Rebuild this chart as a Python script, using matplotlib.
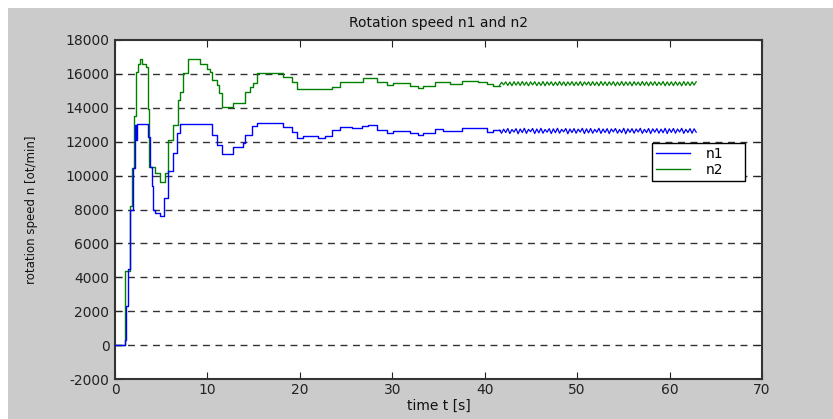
import numpy as np
import matplotlib
matplotlib.use("Agg")
import matplotlib.pyplot as plt
from matplotlib.patches import Rectangle

# ---------------- data ----------------
title = "Rotation speed n1 and n2"
xlabel = "time t [s]"
ylabel = "rotation speed n [ot/min]"
series_names = ["n1", "n2"]
x_ticks = [0, 10, 20, 30, 40, 50, 60, 70]
y_ticks = [-2000, 0, 2000, 4000, 6000, 8000, 10000, 12000, 14000, 16000, 18000]

# stepped (sample-and-hold) part, n1
n1_t = [0.0, 1.05, 1.15, 1.40, 1.65, 1.90, 2.20, 2.27, 2.35, 3.43, 3.61, 3.75, 3.97,
        4.08, 4.33, 4.87, 5.30, 5.77, 6.24, 6.74, 7.03, 10.28, 10.46, 11.00, 11.54,
        12.80, 13.88, 14.06, 14.79, 15.33, 18.21, 19.11, 19.65, 20.37, 22.00, 22.72,
        23.44, 24.34, 25.60, 26.69, 27.41, 28.31, 29.39, 30.11, 31.92, 32.82, 33.36,
        34.62, 35.52, 37.51, 40.21, 40.90, 41.60]
n1_v = [0, 300, 2300, 4500, 8000, 10450, 13000, 12100, 13050, 13050, 12300, 10500, 9400,
        8000, 7800, 7600, 8700, 10250, 11350, 12500, 13050, 13050, 12400, 11800, 11300,
        11700, 11900, 12400, 12900, 13080, 12880, 12580, 12190, 12330, 12190, 12330,
        12680, 12880, 12780, 12920, 13000, 12680, 12530, 12620, 12490, 12390, 12530,
        12720, 12620, 12780, 12580, 12680, 12680]

# stepped part, n2
n2_t = [0.0, 1.10, 1.65, 1.80, 2.10, 2.25, 2.50, 2.75, 2.95, 3.40, 3.55, 3.65, 4.35,
        4.85, 5.40, 5.77, 6.24, 6.80, 7.03, 7.40, 7.85, 9.20, 9.90, 10.28, 10.46,
        11.00, 11.20, 11.54, 12.80, 14.06, 14.60, 14.90, 15.33, 18.21, 19.11, 19.65,
        23.44, 24.34, 26.87, 28.31, 29.39, 30.11, 31.92, 32.82, 33.36, 34.62, 36.24,
        37.51, 39.31, 40.21, 40.90, 41.60]
n2_v = [0, 4400, 8200, 10450, 13500, 16100, 16600, 16850, 16600, 16400, 13900, 10500, 10150,
        9650, 10150, 12100, 13000, 14450, 14950, 16050, 16900, 16600, 16300, 16100, 15630,
        15340, 14850, 14060, 14260, 14940, 15250, 15440, 16030, 15830, 15530, 15080,
        15240, 15530, 15730, 15530, 15340, 15440, 15280, 15140, 15280, 15500, 15380,
        15580, 15500, 15400, 15300, 15300]

# oscillating tail (one sample every tail_dt seconds from tail_t0)
tail_t0 = 41.6
tail_dt = 0.224
n1_tail = [12680, 12500, 12740, 12540, 12780, 12480, 12720, 12570, 12770, 12470, 12750, 12540,
           12790, 12490, 12730, 12590, 12780, 12480, 12750, 12520, 12790, 12500, 12720, 12560,
           12770, 12480, 12760, 12530, 12790, 12500, 12730, 12580, 12780, 12470, 12750, 12540,
           12770, 12500, 12740, 12570, 12790, 12480, 12760, 12520, 12780, 12500, 12730, 12560,
           12790, 12490, 12750, 12540, 12770, 12480, 12750, 12580, 12780, 12500, 12720, 12530,
           12790, 12470, 12760, 12550, 12770, 12500, 12750, 12570, 12790, 12490, 12730, 12540,
           12780, 12480, 12760, 12560, 12770, 12500, 12740, 12530, 12790, 12480, 12760, 12550,
           12780, 12500, 12750, 12570, 12790, 12490, 12730, 12540, 12770, 12500, 12760, 12560]
n2_tail = [15320, 15500, 15360, 15530, 15320, 15520, 15300, 15540, 15340, 15530, 15310, 15550,
           15330, 15520, 15300, 15530, 15350, 15540, 15310, 15510, 15320, 15550, 15300, 15530,
           15340, 15530, 15310, 15520, 15320, 15550, 15330, 15530, 15300, 15530, 15340, 15540,
           15310, 15520, 15320, 15550, 15300, 15530, 15350, 15530, 15310, 15540, 15320, 15520,
           15300, 15550, 15330, 15530, 15310, 15530, 15340, 15540, 15300, 15520, 15320, 15550,
           15310, 15530, 15330, 15530, 15300, 15540, 15340, 15520, 15310, 15550, 15320, 15530,
           15300, 15530, 15330, 15540, 15310, 15520, 15340, 15550, 15300, 15530, 15320, 15530,
           15310, 15540, 15330, 15520, 15300, 15550, 15320, 15530, 15310, 15530, 15340, 15540]

# ---------------- figure ----------------
W, H = 833, 419
fig = plt.figure(figsize=(W / 100, H / 100), dpi=100, facecolor="white")
bg = "#cacbca"
fig.patches.append(Rectangle((8 / W, 0), 1, 1 - 8 / H, transform=fig.transFigure,
                             facecolor=bg, edgecolor="none", zorder=-10))

L, R, T, B = 115, 762, 40, 379
ax = fig.add_axes([L / W, (H - B) / H, (R - L) / W, (B - T) / H])
ax.set_facecolor("white")

c1 = "#0000ff"
c2 = "#008000"

tail_t = tail_t0 + tail_dt * np.arange(len(n1_tail))

ax.plot(n2_t, n2_v, color=c2, lw=1.0, drawstyle="steps-post", label=series_names[1], zorder=3)
ax.plot(tail_t, n2_tail, color=c2, lw=0.9, zorder=3)
ax.plot(n1_t, n1_v, color=c1, lw=1.0, drawstyle="steps-post", label=series_names[0], zorder=4)
ax.plot(tail_t, n1_tail, color=c1, lw=0.9, zorder=4)

ax.set_xlim(0, 70)
ax.set_ylim(-2000, 18000)
ax.set_xticks(x_ticks)
ax.set_yticks(y_ticks)
ax.set_xticklabels([str(v) for v in x_ticks])
ax.set_yticklabels([str(v) for v in y_ticks])

for y in y_ticks[1:-1]:
    ax.axhline(y, color="#333333", lw=1.0, ls=(0, (5, 4)), zorder=1)

ax.tick_params(axis="both", direction="in", length=5, width=0.8, colors="#222222",
               labelsize=10, top=True, right=True)
ax.tick_params(axis="x", pad=3)
ax.tick_params(axis="y", pad=4)
for s in ax.spines.values():
    s.set_color("#333333")
    s.set_linewidth(1.5)

ax.set_title(title, fontsize=10, pad=9, color="#111111")
ax.set_xlabel(xlabel, fontsize=10, labelpad=1, color="#111111")
ax.set_ylabel(ylabel, fontsize=8.5, labelpad=20, color="#111111")

h, l = ax.get_legend_handles_labels()
order = [1, 0]
x0 = (652 - L) / (R - L)
x1 = (745 - L) / (R - L)
ytop = (B - 143) / (B - T)
ybot = (B - 180) / (B - T)
leg = ax.legend([h[i] for i in order], [l[i] for i in order],
                loc="upper left", bbox_to_anchor=(x0, ybot, x1 - x0, ytop - ybot),
                mode="expand", borderaxespad=0, fontsize=10, handlelength=2.4,
                handletextpad=1.2, labelspacing=0.15, borderpad=0.3,
                frameon=True, fancybox=False)
leg.get_frame().set_edgecolor("#000000")
leg.get_frame().set_linewidth(1.0)
leg.get_frame().set_facecolor("white")
leg.get_frame().set_alpha(1.0)
leg.set_zorder(10)

fig.savefig("out.png", dpi=100, facecolor=fig.get_facecolor())
